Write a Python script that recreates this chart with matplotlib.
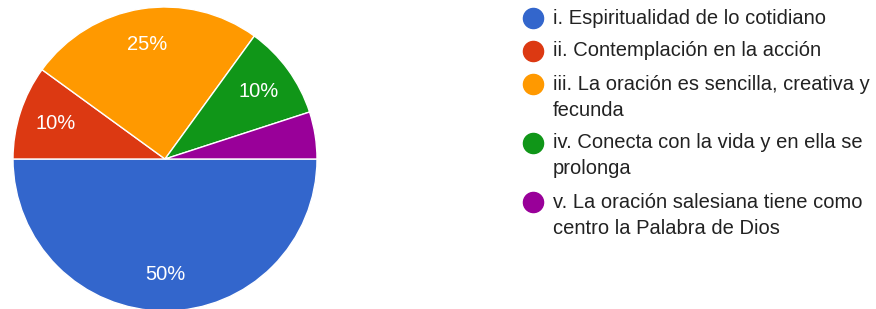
import matplotlib.pyplot as plt

# datos del gráfico
etiquetas = [
    'i. Espiritualidad de lo cotidiano',
    'ii. Contemplación en la acción',
    'iii. La oración es sencilla, creativa y\nfecunda',
    'iv. Conecta con la vida y en ella se\nprolonga',
    'v. La oración salesiana tiene como\ncentro la Palabra de Dios',
]
valores = [50, 10, 25, 10, 5]
colores = ['#3366cc', '#dc3912', '#ff9900', '#109618', '#990099']

plt.rcParams['font.family'] = ['Liberation Sans', 'DejaVu Sans']

W, H = 876, 309
fig = plt.figure(figsize=(W / 100, H / 100), dpi=100)

# pastel: centro (165, 159) px, radio 152 px
cx, cy, r = 165, 159, 152
ax = fig.add_axes([(cx - r) / W, (H - cy - r) / H, 2 * r / W, 2 * r / H])


def fmt(p):
    return f'{p:.0f}%' if p >= 7 else ''


ax.pie(valores, colors=colores, startangle=0, counterclock=False,
       autopct=fmt, pctdistance=0.76,
       wedgeprops=dict(edgecolor='white', linewidth=1),
       textprops=dict(color='white', fontsize=14.5))
ax.set_xlim(-1, 1)
ax.set_ylim(-1, 1)
ax.set_aspect('equal')

# leyenda dibujada a mano en coordenadas de píxel
lg = fig.add_axes([0, 0, 1, 1])
lg.set_xlim(0, W)
lg.set_ylim(H, 0)
lg.axis('off')

y = 18
for texto, color in zip(etiquetas, colores):
    lg.scatter([533], [y], s=210, color=color, zorder=3)
    for linea in texto.split('\n'):
        lg.text(553, y, linea, fontsize=14.5, color='#222222', va='center', ha='left')
        y += 26
    y += 7

fig.savefig('out.png', dpi=100)
